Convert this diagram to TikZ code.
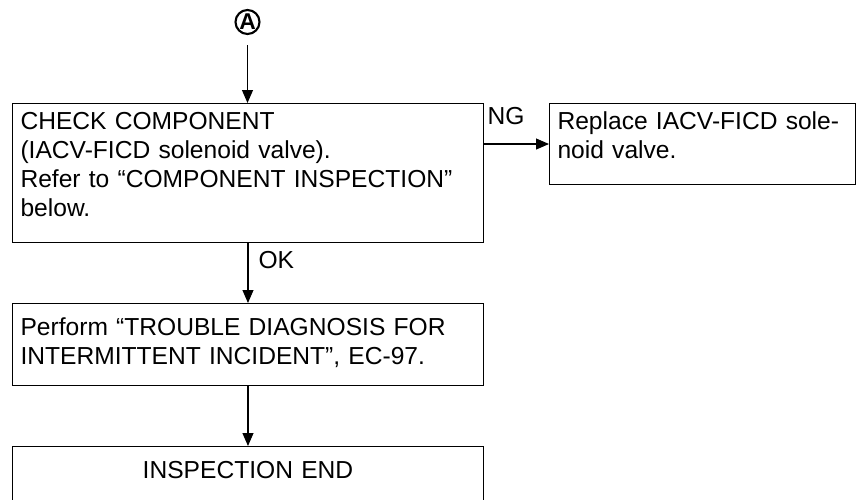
\documentclass[tikz,border=0pt]{standalone}
\usepackage{fontspec}
\setmainfont{Liberation Sans}
\usetikzlibrary{positioning,arrows.meta}

\begin{document}
\begin{tikzpicture}[x=0.02cm,y=-0.02cm,
  font=\fontsize{14}{16.5}\selectfont,
  stepbox/.style={draw,line width=0.6pt,anchor=north west,align=left,
    inner xsep=0.16cm,inner ysep=0pt,text height=0.52cm},
  flow/.style={-{Triangle[length=0.26cm,width=0.22cm]},line width=0.6pt}]
\useasboundingbox (0,0) rectangle (867,500);
\clip (0,0) rectangle (867,500);
\node[circle,draw,line width=1.2pt,minimum size=0.48cm,inner sep=0pt,
  font=\fontsize{13}{13}\selectfont\bfseries] (a) at (247.5,22) {A};
\node[stepbox,text width=9.1cm,text depth=2.26cm] (check) at (12,103)
  {CHECK COMPONENT\\(IACV-FICD solenoid valve).\\Refer to “COMPONENT INSPECTION”\\below.};
\node[stepbox,text width=5.8cm,text depth=1.1cm] (repl) at (549,103)
  {Replace IACV-FICD sole-\\noid valve.};
\node[stepbox,text width=9.1cm,text height=0.64cm,text depth=1.0cm] (perf) at (12,303)
  {Perform “TROUBLE DIAGNOSIS FOR\\INTERMITTENT INCIDENT”, EC-97.};
\node[stepbox,align=center,text width=9.1cm,text height=0.64cm,text depth=1.0cm] (endbox) at (12,446)
  {INSPECTION END};
\draw[flow,shorten <=0.2cm] (a) -- (a |- check.north);
\draw[flow] (check.east |- repl.west) -- (repl.west) node[pos=0.34,above=0.26cm] {NG};
\draw[flow] (check) -- (perf) node[pos=0.28,anchor=west,xshift=0.2cm,inner sep=0pt] {OK};
\draw[flow] (perf) -- (endbox);
\end{tikzpicture}
\end{document}
